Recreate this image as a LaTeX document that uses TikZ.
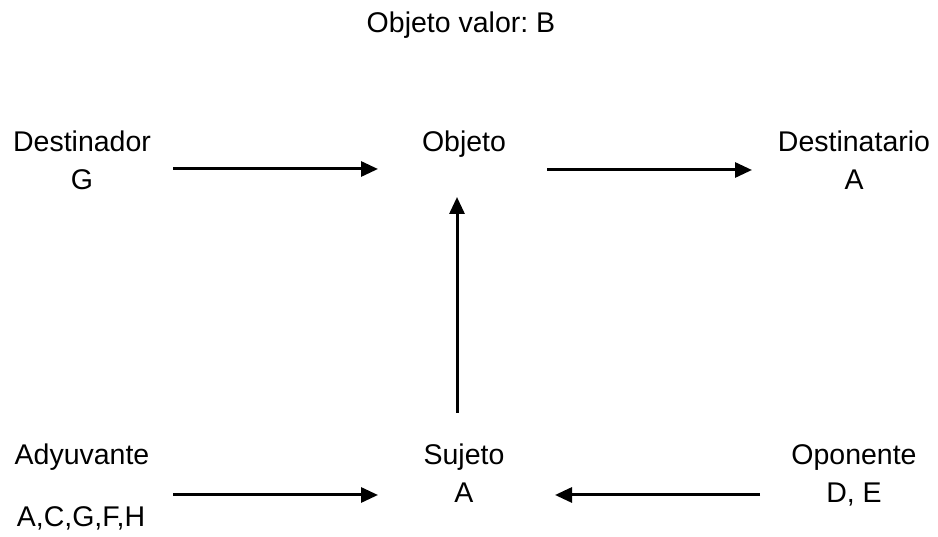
\documentclass[tikz,border=0pt]{standalone}
\usepackage{fontspec}
\setmainfont{Liberation Sans}
\usetikzlibrary{arrows.meta}
\frenchspacing
\begin{document}
\begin{tikzpicture}[x=1pt,y=1pt,
  lbl/.style={anchor=base,inner sep=0pt,font=\fontsize{28.5}{34}\selectfont\frenchspacing},
  conn/.style={line width=3pt,-{Triangle[length=17pt,width=15pt]}}]
\useasboundingbox (0,0) rectangle (938,537);
\node[lbl] (title) at (461,504) {Objeto valor: B};
\node[lbl] (dest) at (82,385) {Destinador};
\node[lbl] (destv) at (82,347) {G};
\node[lbl] (obj) at (464,385) {Objeto};
\node[lbl] (dtar) at (854,385) {Destinatario};
\node[lbl] (dtarv) at (854,347) {A};
\node[lbl] (ady) at (82,72) {Adyuvante};
\node[lbl] (adyv) at (81,10) {A,C,G,F,H};
\node[lbl] (suj) at (464,72) {Sujeto};
\node[lbl] (sujv) at (464,34) {A};
\node[lbl] (opo) at (854,72) {Oponente};
\node[lbl] (opov) at (854,34) {D, E};
\coordinate (a1s) at (173,368); \coordinate (a1e) at (378,368);
\coordinate (a2s) at (547,367); \coordinate (a2e) at (752,367);
\coordinate (a3s) at (457,124); \coordinate (a3e) at (457,340);
\coordinate (a4s) at (173,42);  \coordinate (a4e) at (378,42);
\coordinate (a5s) at (760,42);  \coordinate (a5e) at (555,42);
\draw[conn] (a1s) -- (a1e);
\draw[conn] (a2s) -- (a2e);
\draw[conn] (a3s) -- (a3e);
\draw[conn] (a4s) -- (a4e);
\draw[conn] (a5s) -- (a5e);
\end{tikzpicture}
\end{document}
